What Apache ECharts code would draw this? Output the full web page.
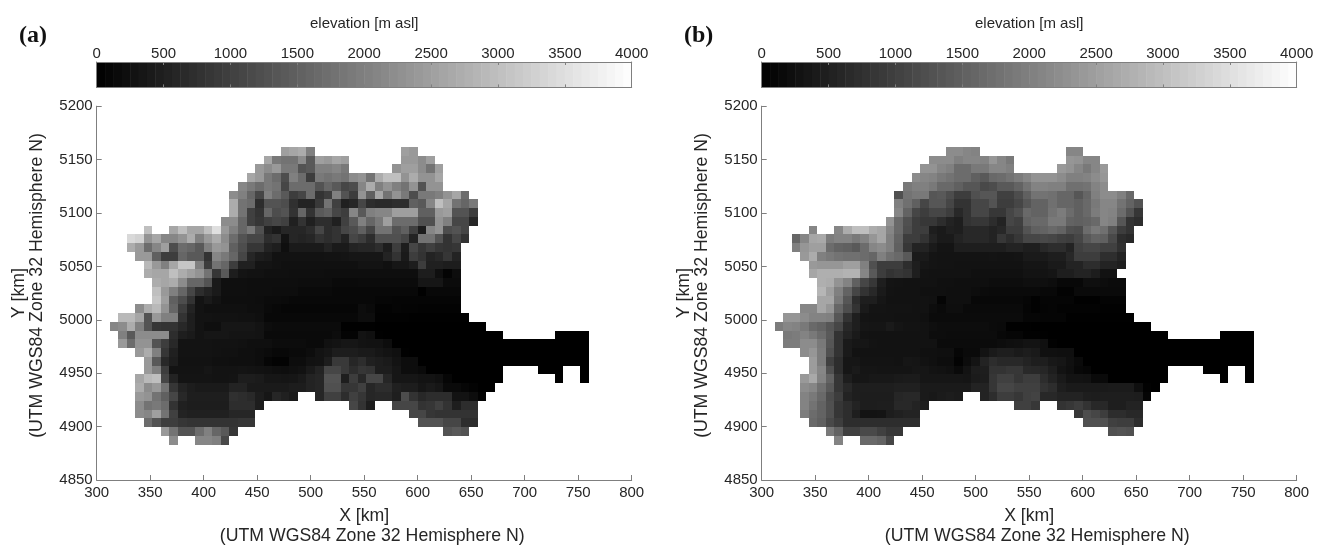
<!DOCTYPE html>
<html><head><meta charset="utf-8">
<style>html,body{margin:0;padding:0;background:#fff}#c{width:1325px;height:545px}</style>
<script src="https://cdn.jsdelivr.net/npm/echarts@6/dist/echarts.min.js"></script>
</head><body><div id="c"></div>
<script>
const xTicks = {min:300,max:800,step:50};
const yTicks = {min:4850,max:5200,step:50};
const cbar = {min:0,max:4000,step:500};
const cellW = 8, cellH = 8.2, firstX = 304, topY = 5162;
const cbarLower = [0,62.5,125,187.5,250,312.5,375,437.5,500,562.5,625,687.5,750,812.5,875,937.5,1000,1062.5,1125,1187.5,1250,1312.5,1375,1437.5,1500,1562.5,1625,1687.5,1750,1812.5,1875,1937.5,2000,2062.5,2125,2187.5,2250,2312.5,2375,2437.5,2500,2562.5,2625,2687.5,2750,2812.5,2875,2937.5,3000,3062.5,3125,3187.5,3250,3312.5,3375,3437.5,3500,3562.5,3625,3687.5,3750,3812.5,3875,3937.5];
// [row, firstColumn, elevations in m]
const elevA = [
[0,21,[2500,2600,2700,2000]],[0,35,[2500,2400]],
[1,19,[2600,1900,1800,1800,2200,1400,2500,2400,2600,2500]],[1,35,[2400,2400,2200,2500]],
[2,18,[2400,2200,2400,1900,1900,1300,1400,2000,2000,2100,1900]],[2,34,[2300,2500,2500,2200,1800,2500]],
[3,17,[2600,2400,1900,1700,1200,2000,1700,950,1900,1800,1900,1800,2200,2300,1800,2700,3000,3000,2300,2700,2300,2300,2600]],
[4,16,[2100,1900,1700,1900,1800,1100,1700,1700,1700,1300,1600,1400,1100,1200,2100,2700,2000,2300,2000,1800,2300,1300,2300,2300]],
[5,15,[2200,2000,1600,1100,2000,1700,1400,950,1100,1700,800,950,2000,1300,950,2300,1500,2600,1800,2300,1900,1200,1900,1900,2000,2300,2600,1700]],
[6,15,[2700,1800,1700,700,1300,1300,1200,750,550,550,900,1800,1000,500,600,1100,700,650,650,700,700,1500,1400,2100,3000,2600,1800,1600,1900]],
[7,15,[2700,1800,1000,800,1600,1200,1300,800,1600,800,1400,1500,1100,950,2100,1400,2000,2100,2100,2500,2500,2500,1500,1500,2400,2500,1300,1300,950]],
[8,14,[2200,2200,1600,1000,850,1000,1100,1000,500,800,500,700,700,500,1000,1400,2000,1600,1900,2500,1700,1700,1700,1250,1250,2300,2000,1100,1100,600]],
[9,5,[3000]],
[9,8,[2600,3000,2600,2600,3000,3500,2400,2000,1600,1900,1250,550,400,600,600,600,700,1100,700,800,1100,1200,1500,1100,1800,1800,1300,1500,1000,450,2100,2300,1200,1300,1100]],
[10,3,[3400,3300,2300,2600,2100,2100,2300,2700,2000,2400,2700,2200,1700,1300,1100,1100,700,800,300,600,550,600,800,700,800,550,1100,950,700,1250,1250,1250,1100,550,1800,1800,1300,800,1100,800]],
[11,3,[2700,2400,1700,2100,2500,1200,1700,1600,1400,2000,2400,2300,1500,1200,850,850,550,470,240,400,400,400,400,550,400,400,550,600,600,700,450,950,450,1100,850,1000,850,800,850]],
[12,4,[2400,2400,1500,950,950,1600,1400,1400,800,2100,1900,1600,1100,600,450,400,280,280,280,280,280,280,300,300,320,350,350,350,350,550,800,400,950,800,550,630,850,550]],
[13,5,[2900,2400,2000,2600,3100,3100,2000,950,1800,1600,950,500,500,320,320,280,250,250,250,250,250,250,250,250,250,300,300,300,250,350,350,450,950,500,500,450,450]],
[14,5,[2700,2600,2600,3000,2700,2500,2300,1800,850,1400,450,320,280,280,250,250,250,230,230,230,230,220,220,220,220,220,220,220,220,220,220,220,450,450,230,60,200]],
[15,6,[2700,2600,2700,2200,1600,1600,1300,400,230,230,230,220,220,220,220,220,220,200,200,200,200,150,150,150,180,180,180,180,180,180,180,350,350,350,180,180]],
[16,6,[3000,2400,2000,1600,1100,700,550,400,230,230,230,220,220,220,200,200,200,150,150,150,150,120,120,120,130,130,130,130,130,130,130,20,130,130,130,130]],
[17,6,[3100,2500,1500,1200,800,300,400,300,220,220,220,220,200,180,180,150,120,120,120,120,120,120,120,120,130,130,100,100,80,80,80,80,80,80,80,80]],
[18,4,[2200,2700,2900,2300,1600,950,550,300,250,250,250,250,250,220,220,150,120,100,100,100,100,100,100,100,100,100,200,150,50,50,80,60,60,40,40,40,40,40]],
[19,2,[2900,2900,2600,1300,2400,2000,2000,800,470,300,300,280,280,280,260,260,230,130,130,130,130,130,130,130,130,120,120,120,200,200,30,30,30,30,20,20,20,20,20,20,20]],
[20,1,[2100,2200,2700,2000,1300,850,800,800,630,470,300,230,230,340,340,340,340,300,200,180,180,180,180,180,180,180,180,20,10,20,20,0,0,0,0,0,0,0,0,0,0,0,0,0]],
[21,2,[2000,1400,2200,2200,2200,2200,700,470,400,300,350,350,350,320,320,320,300,160,160,160,160,160,160,160,160,200,70,70,300,250,10,0,0,0,0,0,0,0,0,0,0,0,0,0,0]],[21,53,[0,0,0,0]],
[22,2,[2400,1700,2300,2300,1300,950,630,300,300,300,300,280,280,280,260,230,230,230,190,190,190,190,160,160,260,300,350,350,300,280,280,200,0,0,0,0,0,0,0,0,0,0,0,0,0,0,0,0,0,0,0,0,0,0,0]],
[23,4,[2400,2700,2000,850,500,300,300,300,300,280,260,260,230,230,200,180,120,120,150,150,200,300,350,450,450,450,400,400,350,300,250,10,0,0,0,0,0,0,0,0,0,0,0,0,0,0,0,0,0,0,0,0,0]],
[24,5,[2400,1400,630,450,280,280,280,280,250,250,230,230,230,200,100,50,50,200,200,280,300,450,900,900,600,700,500,450,400,300,200,200,0,0,0,0,0,0,0,0,0,0,0,0,0,0,0,0,0,0,0,0]],
[25,5,[2400,2000,950,300,300,300,300,350,300,300,300,320,300,280,270,240,220,250,280,400,550,1100,1100,900,700,850,800,450,450,350,200,200,150,0,0,0,0,0,0,0,0,0]],[25,51,[0,0,0]],[25,56,[0]],
[26,4,[2600,2900,3000,1100,550,320,320,320,320,300,300,320,450,450,420,350,350,330,350,400,550,600,1300,1300,470,950,630,1100,1100,600,350,350,350,300,300,250,100,0,0,0,0,0,0]],[26,53,[0]],[26,56,[0]],
[27,4,[2700,2200,2400,1800,850,550,450,400,400,400,400,550,550,400,400,400,400,400,450,450,550,600,1250,1250,850,850,1000,600,700,700,500,450,450,350,400,350,150,150,100,50,0,0]],
[28,4,[2400,2300,1800,1500,1100,630,470,470,470,470,470,750,700,650,450,350,600,500,400]],[28,25,[600,1000,1000,700,1000,850,600,630,630,470,1200,800,630,700,700,700,300,300,200,50]],
[29,4,[2200,1800,1900,1700,800,500,450,450,450,450,450,700,700,700,450]],[29,29,[1100,800,450]],[29,34,[1100,1100,1100,800,850,1000,800,470,700,700]],
[30,4,[2200,2100,2500,1800,1000,550,500,500,500,500,500,600,600,600]],[30,36,[1100,1100,850,800,800,800,800,800]],
[31,5,[1700,1300,950,950,850,800,800,800,800,800,800,850,850]],[31,37,[1300,1300,1300,1100,1100,700,700]],
[32,7,[2400,1800,1300,1300,1700,2000,1600,1400,850]],[32,40,[1300,1400,1300]],
[33,8,[2200]],[33,11,[2100,2100,2000,1150]]
];
const elevB = [
[0,21,[2200,2200,2100,2050]],[0,35,[2100,2100]],
[1,19,[2200,2200,2200,2000,2100,2100,2050,2350,2100,1900]],[1,35,[2350,2300,2100,2100]],
[2,18,[2300,2300,2100,2000,1700,1700,1900,1900,2100,2100,2000]],[2,34,[2400,2300,2100,1900,2100,2400]],
[3,17,[2200,2100,2050,1900,1800,1700,1700,1500,1400,1650,1700,1800,1950,2100,2300,2300,2300,2200,2000,2000,2050,2200,2350]],
[4,16,[1900,2000,2000,1900,1650,1650,1500,1350,1350,1150,1200,1400,1400,1550,1800,2050,2050,2000,2000,1750,1750,1800,2050,2200]],
[5,15,[1250,1800,1900,1900,1350,1400,1200,950,950,1250,1350,1350,1000,1000,1200,1500,1800,1800,1750,1600,1600,1350,1600,2000,2200,2200,2000,1650]],
[6,15,[2000,1750,1500,1100,1350,1350,1100,800,800,1100,1100,1300,950,950,1100,1350,1550,1550,1750,1600,1600,1500,1650,1900,2100,2100,1800,1550,1300]],
[7,15,[2100,1550,1100,950,1100,1100,950,630,800,1100,1100,870,870,1100,1250,1650,1550,1550,1800,1950,1700,1500,1650,1950,2100,2050,1700,1300,850]],
[8,14,[2300,1650,1250,950,870,870,700,550,470,800,870,870,700,550,1100,1000,1550,1650,1650,1900,1900,1550,1500,1550,1650,2100,2000,1350,800,700]],
[9,5,[2100]],
[9,8,[2100,2700,3000,3000,2700,2600,2100,1650,1200,950,950,470,400,500,470,630,630,630,550,630,950,950,1300,1500,1550,1650,1550,1250,1200,1700,1900,1750,1350,950,800]],
[10,3,[1600,2100,2600,2650,1950,2050,2050,1900,2050,2350,2600,2000,1550,950,950,800,550,400,400,550,630,630,630,550,870,700,870,1100,1100,1150,1100,1000,950,1100,1400,1550,1500,1150,700,630]],
[11,3,[2000,2350,2500,2500,1700,1550,1500,1400,1700,2100,2200,2000,1500,870,550,550,400,320,320,470,470,470,470,470,470,550,550,470,470,630,700,700,550,1000,1100,1100,1000,1000,750]],
[12,4,[2400,2700,2000,1900,1800,1750,1750,1700,1600,2000,1750,1650,1400,400,400,320,300,300,300,300,300,300,320,300,300,320,400,400,400,470,470,630,950,950,950,720,720,550]],
[13,5,[2400,2350,2350,2350,2500,2500,2000,1250,950,950,950,700,470,350,320,300,300,280,280,280,280,280,280,280,280,330,330,330,400,400,550,550,700,700,550,550,470]],
[14,5,[2600,2750,2750,2750,2800,2800,2100,1400,950,800,870,800,470,300,280,280,280,280,280,250,250,250,250,250,250,300,300,300,330,470,470,550,550,450,280,280]],
[15,6,[2750,2700,2300,2050,1500,1100,870,470,320,300,280,280,280,280,250,250,230,230,230,230,200,200,200,200,230,230,230,200,120,120,120,230,230,200,180,180]],
[16,6,[2850,2500,2000,1550,1100,800,630,400,300,280,280,280,250,250,250,230,230,230,200,180,150,150,150,150,150,150,130,130,40,40,150,150,150,150,150,150]],
[17,6,[2600,2600,1900,1350,700,470,470,350,280,280,280,280,280,260,80,230,230,230,130,130,130,130,130,130,100,30,80,80,80,80,20,20,20,70,70,70]],
[18,4,[2100,2100,2600,2350,1600,1200,800,400,320,320,300,300,300,280,280,200,150,220,220,150,150,150,150,150,150,150,80,30,70,80,40,40,40,40,40,30,30,30]],
[19,2,[2350,2350,2200,2050,2050,2000,1350,800,470,320,300,300,300,280,280,280,250,180,180,180,180,180,180,180,180,180,180,180,100,100,80,80,80,20,20,10,10,10,10,10,10]],
[20,1,[1950,2100,2050,1900,1650,1550,1350,1100,630,470,350,330,330,400,330,300,300,280,230,200,200,200,200,200,200,180,150,10,10,10,0,0,0,0,0,0,0,0,0,0,0,0,0,0]],
[21,2,[1900,1950,2050,1900,1700,1400,800,550,400,300,280,280,280,280,280,280,280,200,200,190,190,190,190,190,190,120,100,100,30,30,10,0,0,0,0,0,0,0,0,0,0,0,0,0,0]],[21,53,[0,0,0,0]],
[22,2,[1950,1950,2200,2200,1900,1350,800,400,350,340,300,280,280,280,280,280,280,280,180,180,180,180,180,180,180,200,230,250,300,300,250,30,0,0,0,0,0,0,0,0,0,0,0,0,0,0,0,0,0,0,0,0,0,0,0]],
[23,4,[2200,2350,1950,1250,800,400,280,280,280,280,280,280,280,280,250,250,230,230,100,150,150,300,400,470,470,400,450,400,250,250,230,230,0,0,0,0,0,0,0,0,0,0,0,0,0,0,0,0,0,0,0,0,0]],
[24,5,[2450,1950,1000,700,350,350,300,300,300,300,280,350,330,280,250,200,200,40,190,320,550,700,630,630,630,550,470,470,380,350,250,150,0,0,0,0,0,0,0,0,0,0,0,0,0,0,0,0,0,0,0,0]],
[25,5,[2450,2100,1250,700,350,400,330,330,320,320,320,320,340,340,300,280,250,160,300,450,470,800,800,870,870,650,630,600,470,300,230,120,100,0,0,0,0,0,0,0,0,0]],[25,51,[0,0,0]],[25,56,[0]],
[26,4,[2400,2650,2050,1550,850,470,350,350,380,380,380,400,430,430,350,350,350,350,350,330,420,450,850,1000,1000,850,950,950,700,550,400,300,300,280,150,150,0,0,0,0,0,0,0]],[26,53,[0]],[26,56,[0]],
[27,4,[2200,2100,1750,1400,850,630,470,470,470,470,470,500,500,500,400,400,400,400,400,400,550,550,850,1100,1100,1000,1000,1000,800,700,470,400,400,400,400,400,420,420,420,230,30,0]],
[28,4,[2050,1900,1650,1200,950,550,470,450,450,450,450,600,630,630,400,380,420,450,420]],[28,25,[550,700,950,950,870,1000,1050,630,630,550,550,550,470,450,470,470,470,470,450,80]],
[29,4,[2050,1800,1550,1250,850,700,550,450,450,470,470,630,630,550,470]],[29,29,[1000,1000,870]],[29,34,[800,870,950,800,630,630,470,470,550,550]],
[30,4,[1950,1700,1550,1250,850,700,470,300,300,320,450,500,550,550]],[30,36,[870,1200,1100,950,700,700,630,630]],
[31,5,[1650,1500,1150,950,700,700,700,700,700,700,700,700,700]],[31,37,[1250,1250,1250,1000,950,950,700]],
[32,7,[1900,1550,1000,1000,1150,1150,1000,870,870]],[32,40,[1250,1300,1250]],
[33,8,[2050]],[33,11,[1650,1650,1550,1100]]
];
const legendTitle = 'elevation [m asl]';
const xName = 'X [km]';
const yName = 'Y [km]';
const utmNote = '(UTM WGS84 Zone 32 Hemisphere N)';
const panelNames = ['(a)','(b)'];

function cells(rows){
  const out=[];
  rows.forEach(([r,c,vals])=>vals.forEach((v,k)=>out.push([firstX+(c+k)*cellW, topY-(r+1)*cellH, v])));
  return out;
}
const GRAY='#7f7f7f', TXT='#262626', FF='"Liberation Sans",Arial,sans-serif';
const plain=v=>String(v);
function renderCell(p,api){
  const x=api.value(0),y=api.value(1);
  const a=api.coord([x,y+cellH]), b=api.coord([x+cellW,y]);
  const X0=Math.round(a[0]),Y0=Math.round(a[1]),X1=Math.round(b[0]),Y1=Math.round(b[1]);
  return {type:'rect',shape:{x:X0,y:Y0,width:X1-X0,height:Y1-Y0},style:{fill:api.visual('color')}};
}
function renderBar(p,api){
  const l=api.value(0);
  const a=api.coord([l,1]), b=api.coord([l+62.5,0]);
  return {type:'rect',shape:{x:a[0],y:a[1],width:b[0]-a[0]+0.5,height:b[1]-a[1]},style:{fill:api.visual('color')}};
}
const lefts=[96.7,761.7], W=535;
const grid=[],xAxis=[],yAxis=[],series=[],graphic=[];
lefts.forEach((L,i)=>{
  const base=grid.length;
  grid.push({left:L,top:106.2,width:W,height:373.8,outerBoundsMode:'none'});
  grid.push({left:L,top:62,width:W,height:25.4,show:false,outerBoundsMode:'none'});
  xAxis.push({gridIndex:base,type:'value',min:xTicks.min,max:xTicks.max,interval:xTicks.step,position:'bottom',
    axisLine:{show:true,onZero:false,lineStyle:{color:GRAY,width:1}},
    axisTick:{show:true,inside:true,length:5,lineStyle:{color:GRAY,width:1}},
    axisLabel:{show:true,formatter:plain,color:TXT,fontFamily:FF,fontSize:15,margin:5,hideOverlap:false,showMinLabel:true,showMaxLabel:true},
    splitLine:{show:false},
    name:xName,nameLocation:'middle',nameGap:36,nameTextStyle:{color:TXT,fontFamily:FF,fontSize:17.7,verticalAlign:'middle'}});
  yAxis.push({gridIndex:base,type:'value',min:yTicks.min,max:yTicks.max,interval:yTicks.step,position:'left',
    axisLine:{show:true,onZero:false,lineStyle:{color:GRAY,width:1}},
    axisTick:{show:true,inside:true,length:5,lineStyle:{color:GRAY,width:1}},
    axisLabel:{show:true,formatter:plain,color:TXT,fontFamily:FF,fontSize:15,margin:4,hideOverlap:false,showMinLabel:true,showMaxLabel:true},
    splitLine:{show:false},
    name:yName,nameLocation:'middle',nameGap:78,nameTextStyle:{color:TXT,fontFamily:FF,fontSize:17.7,verticalAlign:'middle'}});
  series.push({type:'custom',coordinateSystem:'cartesian2d',xAxisIndex:xAxis.length-1,yAxisIndex:yAxis.length-1,
    data:cells(i===0?elevA:elevB),encode:{x:0,y:1},renderItem:renderCell,silent:true,animation:false});
  xAxis.push({gridIndex:base+1,type:'value',min:cbar.min,max:cbar.max,interval:cbar.step,position:'top',
    axisLine:{show:true,onZero:false,lineStyle:{color:GRAY,width:1}},
    axisTick:{show:true,inside:true,length:3,lineStyle:{color:GRAY,width:1}},
    axisLabel:{show:true,formatter:plain,color:TXT,fontFamily:FF,fontSize:15,margin:1,hideOverlap:false,showMinLabel:true,showMaxLabel:true},
    splitLine:{show:false},z:5,
    name:legendTitle,nameLocation:'middle',nameGap:31,nameTextStyle:{color:TXT,fontFamily:FF,fontSize:15}});
  const cbX=xAxis.length-1;
  xAxis.push({gridIndex:base+1,type:'value',min:cbar.min,max:cbar.max,interval:cbar.step,position:'bottom',
    axisLine:{show:true,onZero:false,lineStyle:{color:GRAY,width:1}},
    axisTick:{show:true,inside:true,length:3,lineStyle:{color:GRAY,width:1}},
    axisLabel:{show:false},splitLine:{show:false},z:5});
  yAxis.push({gridIndex:base+1,type:'value',min:0,max:1,position:'left',
    axisLine:{show:true,onZero:false,lineStyle:{color:GRAY,width:1}},axisTick:{show:false},axisLabel:{show:false},splitLine:{show:false},z:5});
  const cbY=yAxis.length-1;
  yAxis.push({gridIndex:base+1,type:'value',min:0,max:1,position:'right',
    axisLine:{show:true,onZero:false,lineStyle:{color:GRAY,width:1}},axisTick:{show:false},axisLabel:{show:false},splitLine:{show:false},z:5});
  series.push({type:'custom',coordinateSystem:'cartesian2d',xAxisIndex:cbX,yAxisIndex:cbY,
    data:cbarLower.map(l=>[l,0,l+31.25]),encode:{x:0,y:1},renderItem:renderBar,silent:true,animation:false});
  graphic.push({type:'text',left:L-77.7,top:24,silent:true,style:{text:panelNames[i],fill:'#111',font:'bold 24px "Liberation Serif","Times New Roman",serif'}});
  const noteFont='17.7px '+FF;
  graphic.push({type:'text',x:L+275.5,y:536,silent:true,style:{text:utmNote,fill:TXT,font:noteFont,align:'center',verticalAlign:'middle'}});
  graphic.push({type:'text',x:L-59.5,y:285.5,rotation:Math.PI/2,silent:true,style:{text:utmNote,fill:TXT,font:noteFont,align:'center',verticalAlign:'middle'}});
});
const chart=echarts.init(document.getElementById('c'),null,{renderer:'canvas'});
chart.setOption({
  animation:false,backgroundColor:'#fff',
  grid,xAxis,yAxis,series,graphic,
  visualMap:{show:false,type:'continuous',min:cbar.min,max:cbar.max,dimension:2,seriesIndex:[0,1,2,3],inRange:{color:['#000000','#ffffff']}}
});
</script></body></html>
